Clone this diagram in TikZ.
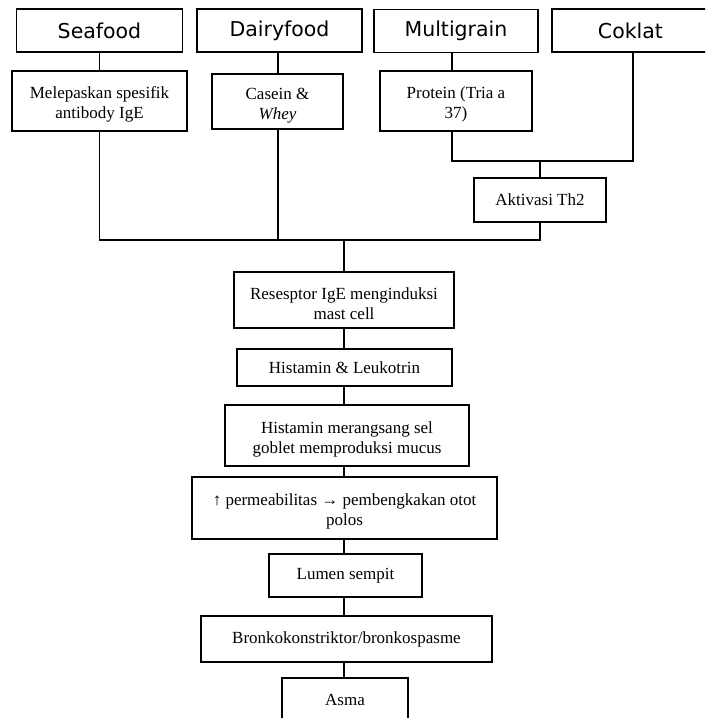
\documentclass[tikz,border=0pt]{standalone}
\usepackage{fontspec}
\setmainfont{Liberation Serif}
\newfontfamily\headfont{DejaVu Sans}
\newcommand{\topstrut}{\rule{0pt}{19pt}}

\begin{document}
\begin{tikzpicture}[x=1pt, y=-1pt, line width=1.8pt,
    head/.style={draw, minimum height=43pt, inner sep=0pt, font=\headfont\fontsize{20.5}{24}\selectfont},
    proc/.style={draw, align=center, inner sep=0pt, font=\fontsize{17}{20}\selectfont}]
    \useasboundingbox (0,0) rectangle (705,718);
    \clip (0,0) rectangle (705,718);
    \node[head, minimum width=166pt] (sea) at (99.5,30.5) {Seafood};
    \node[head, minimum width=165pt] (dai) at (279.5,30.5) {Dairyfood};
    \node[head, minimum width=164pt] (mul) at (456,31) {Multigrain};
    \node[head, minimum width=157pt] (cok) at (630.5,30.5) {Coklat};
    \node[proc, minimum width=175pt, minimum height=60pt] (mel) at (99.5,101) {\topstrut Melepaskan spesifik\\antibody IgE};
    \node[proc, minimum width=131pt, minimum height=55pt] (cas) at (277.5,101.5) {\topstrut Casein \&\\\textit{Whey}};
    \node[proc, minimum width=152pt, minimum height=60pt] (pro) at (456,101) {\topstrut Protein (Tria a\\37)};
    \node[proc, minimum width=132pt, minimum height=44pt] (akt) at (540,200) {Aktivasi Th2};
    \node[proc, minimum width=220pt, minimum height=56pt] (res) at (344,300) {\topstrut Resesptor IgE menginduksi\\mast cell};
    \node[proc, minimum width=215pt, minimum height=37pt] (hl) at (344.5,367.5) {Histamin \& Leukotrin};
    \node[proc, minimum width=244pt, minimum height=61pt] (hm) at (347,435.5) {\topstrut Histamin merangsang sel\\goblet memproduksi mucus};
    \node[proc, minimum width=305pt, minimum height=62pt] (perm) at (344.5,508) {\topstrut ↑ permeabilitas → pembengkakan otot\\polos};
    \node[proc, minimum width=153pt, minimum height=43pt] (lum) at (345.5,575.5) {Lumen sempit};
    \node[proc, minimum width=291pt, minimum height=46pt] (bro) at (346.5,639) {Bronkokonstriktor/bronkospasme};
    \node[proc, minimum width=126pt, minimum height=44pt] (asma) at (345,700) {Asma};
    % junctions
    \coordinate (th) at (540,161);
    \coordinate (mg) at (344,240);
    \draw (sea) -- (mel);
    \draw ([xshift=0.5pt]cas.north) -- ([xshift=0.5pt]cas.north |- dai.south);
    \draw ([xshift=-4pt]pro.north) -- ([xshift=-4pt]pro.north |- mul.south);
    \draw ([xshift=-4pt]pro.south) |- (th) -| ([xshift=2.5pt]cok.south);
    \draw (th) -- (akt);
    \draw (mel.south) |- (mg);
    \draw ([xshift=0.5pt]cas.south) -- ([xshift=0.5pt]cas.south |- mg);
    \draw (akt.south) |- (mg);
    \draw (mg) -- (mg |- res.north);
    \draw (res.south -| mg) -- (mg |- hl.north);
    \draw (hl.south -| mg) -- (mg |- hm.north);
    \draw (hm.south -| mg) -- (mg |- perm.north);
    \draw (perm.south -| mg) -- (mg |- lum.north);
    \draw (lum.south -| mg) -- (mg |- bro.north);
    \draw (bro.south -| mg) -- (mg |- asma.north);
\end{tikzpicture}
\end{document}
